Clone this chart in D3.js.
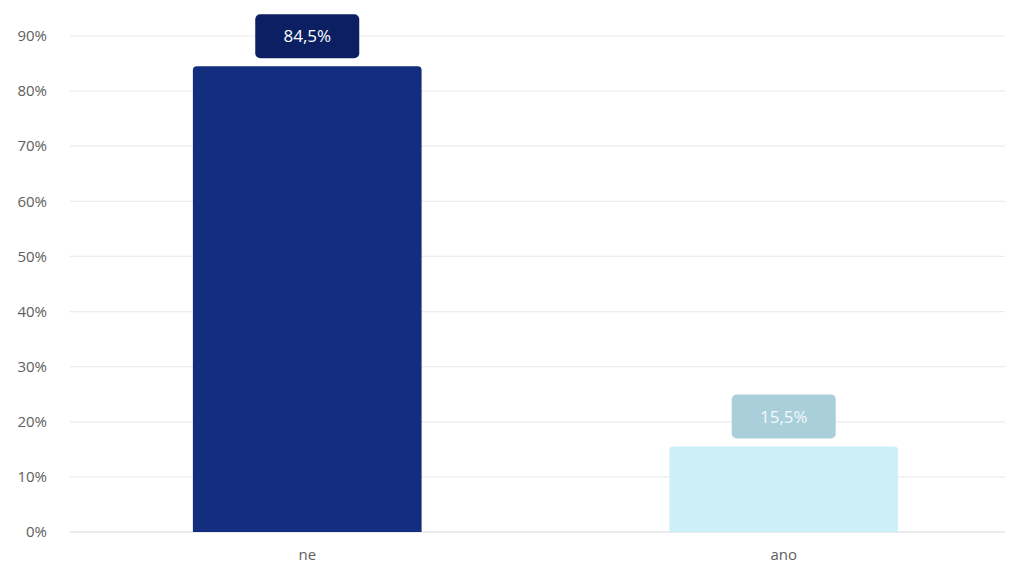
<!DOCTYPE html>
<html><head><meta charset="utf-8">
<script src="https://cdn.jsdelivr.net/npm/d3@7"></script>
<style>body{margin:0;background:#fff;}svg{display:block;}</style>
</head><body>
<svg id="c" width="1009" height="563"></svg>
<script>
const categories = ["ne", "ano"];
const values = [84.5, 15.5];
const valueLabels = ["84,5%", "15,5%"];
const yTicks = [0, 10, 20, 30, 40, 50, 60, 70, 80, 90];
const barColors = ["#132e7e", "#cdf0f8"];
const boxColors = ["#0b1f62", "#a9d0da"];

const svg = d3.select("#c");
const font = "'Open Sans', Lato, sans-serif";
const x = d3.scaleBand().domain(categories).range([69, 1022]).paddingInner(0.52).paddingOuter(0.26);
const y = d3.scaleLinear().domain([0, 90]).range([532, 36]);
const gridL = 70, gridR = 1005;

svg.append("g").selectAll("line").data(yTicks).join("line")
  .attr("x1", gridL).attr("x2", gridR)
  .attr("y1", d => y(d)).attr("y2", d => y(d))
  .attr("stroke", d => d === 0 ? "#d3d7df" : "#ececec").attr("stroke-width", 1.2);

svg.append("g").selectAll("text").data(yTicks).join("text")
  .attr("x", 47).attr("y", d => y(d)).attr("dy", "0.35em")
  .attr("text-anchor", "end").attr("font-family", font)
  .attr("font-size", 15).attr("fill", "#606060").text(d => d + "%");

const bw = x.bandwidth();
const r = 4;
function topRounded(x0, y0, w, h, r) {
  return `M${x0},${y0 + h}V${y0 + r}Q${x0},${y0} ${x0 + r},${y0}H${x0 + w - r}Q${x0 + w},${y0} ${x0 + w},${y0 + r}V${y0 + h}Z`;
}
svg.append("g").selectAll("path").data(categories).join("path")
  .attr("d", (c, i) => topRounded(x(c), y(values[i]), bw, y(0) - y(values[i]), r))
  .attr("fill", (c, i) => barColors[i]);

const boxW = 104, boxH = 44, gap = 8;
const lg = svg.append("g").selectAll("g").data(categories).join("g");
lg.append("rect")
  .attr("x", c => x(c) + bw / 2 - boxW / 2)
  .attr("y", (c, i) => y(values[i]) - gap - boxH)
  .attr("width", boxW).attr("height", boxH).attr("rx", 5)
  .attr("fill", (c, i) => boxColors[i]);
lg.append("text")
  .attr("x", c => x(c) + bw / 2)
  .attr("y", (c, i) => y(values[i]) - gap - boxH / 2)
  .attr("dy", "0.36em").attr("text-anchor", "middle")
  .attr("font-family", font).attr("font-size", 17)
  .attr("fill", (c, i) => i === 0 ? "#ffffff" : "#f2f8fa")
  .text((c, i) => valueLabels[i]);

svg.append("g").selectAll("text").data(categories).join("text")
  .attr("x", c => x(c) + bw / 2).attr("y", 560)
  .attr("text-anchor", "middle").attr("font-family", font)
  .attr("font-size", 15).attr("fill", "#606060").text(c => c);
</script>
</body></html>
